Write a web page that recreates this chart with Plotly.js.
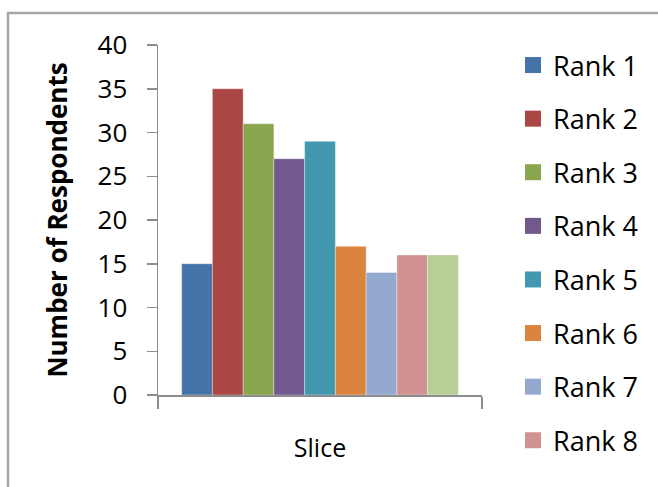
<!DOCTYPE html>
<html>
<head>
<meta charset="utf-8">
<script src="https://cdn.plot.ly/plotly-3.0.1.min.js"></script>
<style>
  html, body { margin: 0; padding: 0; background: #ffffff; }
  #chart { width: 658px; height: 487px; }
</style>
</head>
<body>
<div id="chart"></div>
<script>
const category = ['Slice'];
const seriesNames = ['Rank 1', 'Rank 2', 'Rank 3', 'Rank 4', 'Rank 5', 'Rank 6', 'Rank 7', 'Rank 8', 'Rank 9'];
const seriesValues = [15, 35, 31, 27, 29, 17, 14, 16, 16];
const seriesColors = ['#4572A7', '#AA4643', '#89A54E', '#71588F', '#4198AF', '#DB843D', '#93A9CF', '#D19392', '#B9CD96'];
const legendShown = 8; // the reference legend is cut off after Rank 8
const yTickVals = [0, 5, 10, 15, 20, 25, 30, 35, 40];

const FONT = '"Open Sans", "DejaVu Sans", sans-serif';
const W = 658, H = 487;
const L = 158, R = 176, T = 45, B = 92;
const plotW = W - L - R, plotH = H - T - B;
const px2x = p => (p - L) / plotW;
const px2y = p => (H - B - p) / plotH;

const traces = [];
seriesNames.forEach((name, i) => {
  traces.push({
    type: 'bar',
    name: name,
    x: category,
    y: [seriesValues[i]],
    marker: { color: seriesColors[i], line: { color: 'rgba(255,255,255,0.35)', width: 1 } },
    showlegend: false,
    hoverinfo: 'name+y'
  });
});
// legend entries (larger square swatches as in the reference)
seriesNames.slice(0, legendShown).forEach((name, i) => {
  traces.push({
    type: 'scatter',
    mode: 'markers',
    name: name,
    x: [null],
    y: [null],
    legendgroup: 'g' + i,
    marker: { symbol: 'square', size: 16, color: seriesColors[i], line: { width: 0 } },
    showlegend: true,
    hoverinfo: 'skip'
  });
});

const layout = {
  width: W,
  height: H,
  margin: { l: L, r: R, t: T, b: B, pad: 0 },
  paper_bgcolor: 'rgba(0,0,0,0)',
  plot_bgcolor: 'rgba(0,0,0,0)',
  font: { family: FONT, size: 26, color: '#000000' },
  barmode: 'group',
  bargap: 0.146,
  bargroupgap: 0,
  showlegend: true,
  legend: {
    x: px2x(513),
    xanchor: 'left',
    y: px2y(41),
    yanchor: 'top',
    traceorder: 'grouped',
    tracegroupgap: 15.5,
    maxheight: 700,
    font: { family: FONT, size: 27, color: '#000000' },
    bgcolor: 'rgba(0,0,0,0)',
    borderwidth: 0
  },
  xaxis: {
    type: 'category',
    tickson: 'boundaries',
    ticks: 'outside',
    ticklen: 12,
    tickwidth: 1.5,
    tickcolor: '#8c8c8c',
    showline: true,
    linecolor: '#8c8c8c',
    linewidth: 1.5,
    showgrid: false,
    zeroline: false,
    ticklabelstandoff: 30,
    tickfont: { family: FONT, size: 25, color: '#000000' },
    fixedrange: true
  },
  yaxis: {
    range: [0, 40],
    tickvals: yTickVals,
    ticktext: yTickVals.map(String),
    ticks: 'outside',
    ticklen: 10,
    tickwidth: 1.5,
    tickcolor: '#8c8c8c',
    showline: true,
    linecolor: '#8c8c8c',
    linewidth: 1.5,
    showgrid: false,
    zeroline: false,
    ticklabelstandoff: 14,
    tickfont: { family: FONT, size: 26, color: '#000000' },
    title: {
      text: '<b>Number of Respondents</b>',
      font: { family: FONT, size: 26, color: '#000000' },
      standoff: 22
    },
    automargin: false,
    fixedrange: true
  },
  shapes: [
    {
      type: 'path',
      xref: 'paper', yref: 'paper',
      path: 'M ' + px2x(8) + ' ' + px2y(H + 5) + ' L ' + px2x(8) + ' ' + px2y(13) + ' L ' + px2x(W + 5) + ' ' + px2y(13),
      line: { color: '#a6a6a6', width: 2.5 },
      layer: 'below'
    }
  ]
};

Plotly.newPlot('chart', traces, layout, { displayModeBar: false, staticPlot: true });
</script>
</body>
</html>
